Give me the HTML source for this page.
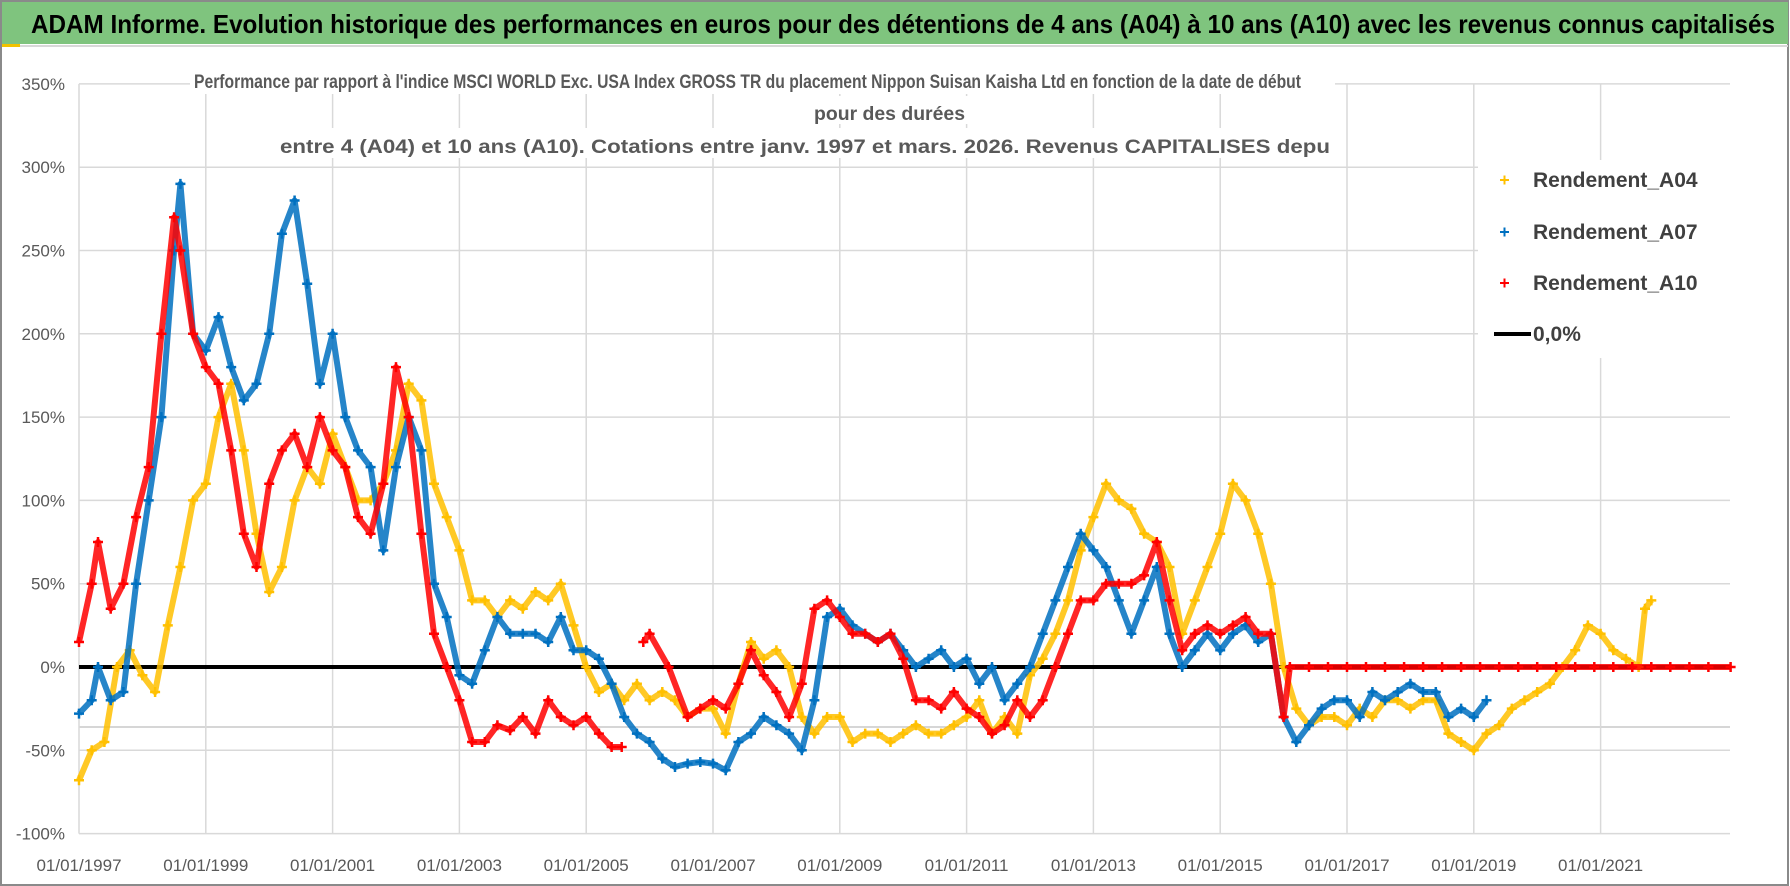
<!DOCTYPE html>
<html><head><meta charset="utf-8"><style>
html,body{margin:0;padding:0;background:#fff;}
svg{display:block;font-family:"Liberation Sans Narrow","Liberation Sans",sans-serif;}
</style></head><body>
<svg id="chart" width="1790" height="886" viewBox="0 0 1790 886" xmlns="http://www.w3.org/2000/svg">
<rect x="0" y="0" width="1790" height="886" fill="#fff"/>
<rect x="1" y="1" width="1787" height="884" fill="none" stroke="#8a8a8a" stroke-width="2"/>
<rect x="2" y="2" width="1786" height="42" fill="#7fc47e"/>
<rect x="2" y="44" width="18" height="3" fill="#f2c200"/>
<line x1="20" y1="46" x2="1788" y2="46" stroke="#d8d8d8" stroke-width="2"/>
<text x="31" y="33" font-size="26" font-weight="bold" fill="#000" textLength="1744" lengthAdjust="spacingAndGlyphs">ADAM Informe. Evolution historique des performances en euros pour des détentions de 4 ans (A04) à 10 ans (A10) avec les revenus connus capitalisés</text>
<g id="grid"></g>
<g id="yticks"></g>
<g id="xticks"></g>
<g id="series"></g>
<g>
<rect x="190" y="64" width="1145" height="30" fill="#fff"/>
<rect x="805" y="96" width="168" height="28" fill="#fff"/>
<rect x="275" y="128" width="1062" height="30" fill="#fff"/>
<text x="194" y="88" font-size="19" font-weight="bold" fill="#595959" textLength="1107" lengthAdjust="spacingAndGlyphs">Performance par rapport à l'indice MSCI WORLD Exc. USA Index GROSS TR  du placement Nippon Suisan Kaisha Ltd en fonction de la date de début</text>
<text x="814" y="120" font-size="19" font-weight="bold" fill="#595959" textLength="151" lengthAdjust="spacingAndGlyphs">pour des durées</text>
<text x="280" y="153" font-size="19" font-weight="bold" fill="#595959" textLength="1050" lengthAdjust="spacingAndGlyphs">entre 4 (A04) et 10 ans (A10). Cotations entre janv. 1997 et mars. 2026. Revenus CAPITALISES depu</text>
</g>
<g>
<rect x="1478" y="160" width="308" height="198" fill="#fff"/>
<g><path d="M1500 180h9M1504.5 175.5v9" stroke="#ffc000" stroke-width="2"/><text x="1533" y="187" font-size="21" font-weight="bold" fill="#404040">Rendement_A04</text></g>
<g><path d="M1500 232h9M1504.5 227.5v9" stroke="#0070c0" stroke-width="2"/><text x="1533" y="239" font-size="21" font-weight="bold" fill="#404040">Rendement_A07</text></g>
<g><path d="M1500 283h9M1504.5 278.5v9" stroke="#ff0000" stroke-width="2"/><text x="1533" y="290" font-size="21" font-weight="bold" fill="#404040">Rendement_A10</text></g>
<g><line x1="1494" y1="334" x2="1531" y2="334" stroke="#000" stroke-width="4"/><text x="1533" y="341" font-size="21" font-weight="bold" fill="#404040">0,0%</text></g>
</g>
</svg>
<script>
const yTickValues=[350,300,250,200,150,100,50,0,-50,-100];
const yTickLabels=["350%","300%","250%","200%","150%","100%","50%","0%","-50%","-100%"];
const xTickYears=[1997,1999,2001,2003,2005,2007,2009,2011,2013,2015,2017,2019,2021];
const xTickLabels=["01/01/1997","01/01/1999","01/01/2001","01/01/2003","01/01/2005","01/01/2007","01/01/2009","01/01/2011","01/01/2013","01/01/2015","01/01/2017","01/01/2019","01/01/2021"];
const a04Dates=[1997.0,1997.2,1997.4,1997.6,1997.8,1998.0,1998.2,1998.4,1998.6,1998.8,1999.0,1999.2,1999.4,1999.6,1999.8,2000.0,2000.2,2000.4,2000.6,2000.8,2001.0,2001.2,2001.4,2001.6,2001.8,2002.0,2002.2,2002.4,2002.6,2002.8,2003.0,2003.2,2003.4,2003.6,2003.8,2004.0,2004.2,2004.4,2004.6,2004.8,2005.0,2005.2,2005.4,2005.6,2005.8,2006.0,2006.2,2006.4,2006.6,2006.8,2007.0,2007.2,2007.4,2007.6,2007.8,2008.0,2008.2,2008.4,2008.6,2008.8,2009.0,2009.2,2009.4,2009.6,2009.8,2010.0,2010.2,2010.4,2010.6,2010.8,2011.0,2011.2,2011.4,2011.6,2011.8,2012.0,2012.2,2012.4,2012.6,2012.8,2013.0,2013.2,2013.4,2013.6,2013.8,2014.0,2014.2,2014.4,2014.6,2014.8,2015.0,2015.2,2015.4,2015.6,2015.8,2016.0,2016.2,2016.4,2016.6,2016.8,2017.0,2017.2,2017.4,2017.6,2017.8,2018.0,2018.2,2018.4,2018.6,2018.8,2019.0,2019.2,2019.4,2019.6,2019.8,2020.0,2020.2,2020.4,2020.6,2020.8,2021.0,2021.2,2021.4,2021.6,2021.7,2021.8];
const a04Values=[-68,-50,-45,0,10,-5,-15,25,60,100,110,150,170,130,80,45,60,100,120,110,140,120,100,100,110,130,170,160,110,90,70,40,40,30,40,35,45,40,50,25,0,-15,-10,-20,-10,-20,-15,-20,-30,-25,-25,-40,-10,15,5,10,0,-30,-40,-30,-30,-45,-40,-40,-45,-40,-35,-40,-40,-35,-30,-20,-40,-30,-40,-5,5,20,40,70,90,110,100,95,80,75,60,20,40,60,80,110,100,80,50,0,-25,-35,-30,-30,-35,-25,-30,-20,-20,-25,-20,-20,-40,-45,-50,-40,-35,-25,-20,-15,-10,0,10,25,20,10,5,0,35,40];
const a07Dates=[1997.0,1997.2,1997.3,1997.5,1997.7,1997.9,1998.1,1998.3,1998.5,1998.6,1998.8,1999.0,1999.2,1999.4,1999.6,1999.8,2000.0,2000.2,2000.4,2000.6,2000.8,2001.0,2001.2,2001.4,2001.6,2001.8,2002.0,2002.2,2002.4,2002.6,2002.8,2003.0,2003.2,2003.4,2003.6,2003.8,2004.0,2004.2,2004.4,2004.6,2004.8,2005.0,2005.2,2005.4,2005.6,2005.8,2006.0,2006.2,2006.4,2006.6,2006.8,2007.0,2007.2,2007.4,2007.6,2007.8,2008.0,2008.2,2008.4,2008.6,2008.8,2009.0,2009.2,2009.4,2009.6,2009.8,2010.0,2010.2,2010.4,2010.6,2010.8,2011.0,2011.2,2011.4,2011.6,2011.8,2012.0,2012.2,2012.4,2012.6,2012.8,2013.0,2013.2,2013.4,2013.6,2013.8,2014.0,2014.2,2014.4,2014.6,2014.8,2015.0,2015.2,2015.4,2015.6,2015.8,2016.0,2016.2,2016.4,2016.6,2016.8,2017.0,2017.2,2017.4,2017.6,2017.8,2018.0,2018.2,2018.4,2018.6,2018.8,2019.0,2019.2];
const a07Values=[-28,-20,0,-20,-15,50,100,150,250,290,200,190,210,180,160,170,200,260,280,230,170,200,150,130,120,70,120,150,130,50,30,-5,-10,10,30,20,20,20,15,30,10,10,5,-10,-30,-40,-45,-55,-60,-58,-57,-58,-62,-45,-40,-30,-35,-40,-50,-20,30,35,25,20,15,20,10,0,5,10,0,5,-10,0,-20,-10,0,20,40,60,80,70,60,40,20,40,60,20,0,10,20,10,20,25,15,20,-30,-45,-35,-25,-20,-20,-30,-15,-20,-15,-10,-15,-15,-30,-25,-30,-20];
const a10Dates=[1997.0,1997.2,1997.3,1997.5,1997.7,1997.9,1998.1,1998.3,1998.5,1998.6,1998.8,1999.0,1999.2,1999.4,1999.6,1999.8,2000.0,2000.2,2000.4,2000.6,2000.8,2001.0,2001.2,2001.4,2001.6,2001.8,2002.0,2002.2,2002.4,2002.6,2002.8,2003.0,2003.2,2003.4,2003.6,2003.8,2004.0,2004.2,2004.4,2004.6,2004.8,2005.0,2005.2,2005.4,2005.56,2005.9,2006.0,2006.3,2006.6,2006.8,2007.0,2007.2,2007.4,2007.6,2007.8,2008.0,2008.2,2008.4,2008.6,2008.8,2009.0,2009.2,2009.4,2009.6,2009.8,2010.0,2010.2,2010.4,2010.6,2010.8,2011.0,2011.2,2011.4,2011.6,2011.8,2012.0,2012.2,2012.4,2012.6,2012.8,2013.0,2013.2,2013.4,2013.6,2013.8,2014.0,2014.2,2014.4,2014.6,2014.8,2015.0,2015.2,2015.4,2015.6,2015.8,2016.0,2016.1,2016.4,2016.7,2017.0,2017.3,2017.6,2017.9,2018.2,2018.5,2018.8,2019.1,2019.4,2019.7,2020.0,2020.3,2020.6,2020.9,2021.2,2021.5,2021.8,2022.1,2022.4,2022.7,2023.05];
const a10Values=[15,50,75,35,50,90,120,200,270,250,200,180,170,130,80,60,110,130,140,120,150,130,120,90,80,110,180,150,80,20,0,-20,-45,-45,-35,-38,-30,-40,-20,-30,-35,-30,-40,-48,-48,15,20,0,-30,-25,-20,-25,-10,10,-5,-15,-30,-10,35,40,30,20,20,15,20,5,-20,-20,-25,-15,-25,-30,-40,-35,-20,-30,-20,0,20,40,40,50,50,50,55,75,40,10,20,25,20,25,30,20,20,-30,0,0,0,0,0,0,0,0,0,0,0,0,0,0,0,0,0,0,0,0,0,0,0,0];
const a10Breaks=[2005.56];

const NS="http://www.w3.org/2000/svg";
const X0=79,PX_PER_YEAR=63.4,Y0=667,PX_PER_PCT=1.666;
const xScale=y=>X0+(y-1997)*PX_PER_YEAR;
const yScale=v=>Y0-v*PX_PER_PCT;
const XMAX=1730;
function mk(tag,attrs,parent){const e=document.createElementNS(NS,tag);for(const k in attrs)e.setAttribute(k,attrs[k]);parent.appendChild(e);return e;}
const grid=document.getElementById('grid'),yt=document.getElementById('yticks'),xt=document.getElementById('xticks'),ser=document.getElementById('series');
yTickValues.forEach((v,i)=>{
 const l=mk('line',{x1:X0,x2:XMAX,y1:yScale(v),y2:yScale(v),stroke:'#d9d9d9','stroke-width':1.5},grid);
 
 
 const t=mk('text',{x:65,y:yScale(v)+6,'text-anchor':'end','font-size':17,fill:'#595959'},yt);
 t.textContent=yTickLabels[i];
 
 
});
const extra=mk('line',{x1:X0,x2:XMAX,y1:yScale(-36),y2:yScale(-36),stroke:'#c8c8c8','stroke-width':1.5},grid);


xTickYears.forEach((yr,i)=>{
 const l=mk('line',{x1:xScale(yr),x2:xScale(yr),y1:yScale(350),y2:yScale(-100),stroke:'#d9d9d9','stroke-width':1.5},grid);
 
 
 const t=mk('text',{x:xScale(yr),y:871,'text-anchor':'middle','font-size':17,fill:'#595959'},xt);
 t.textContent=xTickLabels[i];
 
 
});
const zl=mk('line',{x1:X0,x2:XMAX,y1:yScale(0),y2:yScale(0),stroke:'#000','stroke-width':4},ser);


function drawSeries(dates,vals,color,name,breaks){
 const g=mk('g',{},ser);
 
 
 let d='',start=true;
 dates.forEach((dt,i)=>{const x=xScale(dt),y=yScale(vals[i]);d+=(start?'M':'L')+x.toFixed(1)+' '+y.toFixed(1);start=breaks.indexOf(dt)>=0;});
 mk('path',{d:d,fill:'none',stroke:color,'stroke-width':6,'stroke-linejoin':'round','stroke-opacity':0.85},g);
 let m='';
 dates.forEach((dt,i)=>{const x=xScale(dt),y=yScale(vals[i]);m+='M'+(x-5).toFixed(1)+' '+y.toFixed(1)+'h10M'+x.toFixed(1)+' '+(y-5).toFixed(1)+'v10';});
 mk('path',{d:m,fill:'none',stroke:color,'stroke-width':2.5},g);
}
drawSeries(a04Dates,a04Values,'#ffc000','series-a04',[]);
drawSeries(a07Dates,a07Values,'#0070c0','series-a07',[]);
drawSeries(a10Dates,a10Values,'#ff0000','series-a10',a10Breaks);
</script>
</body></html>
